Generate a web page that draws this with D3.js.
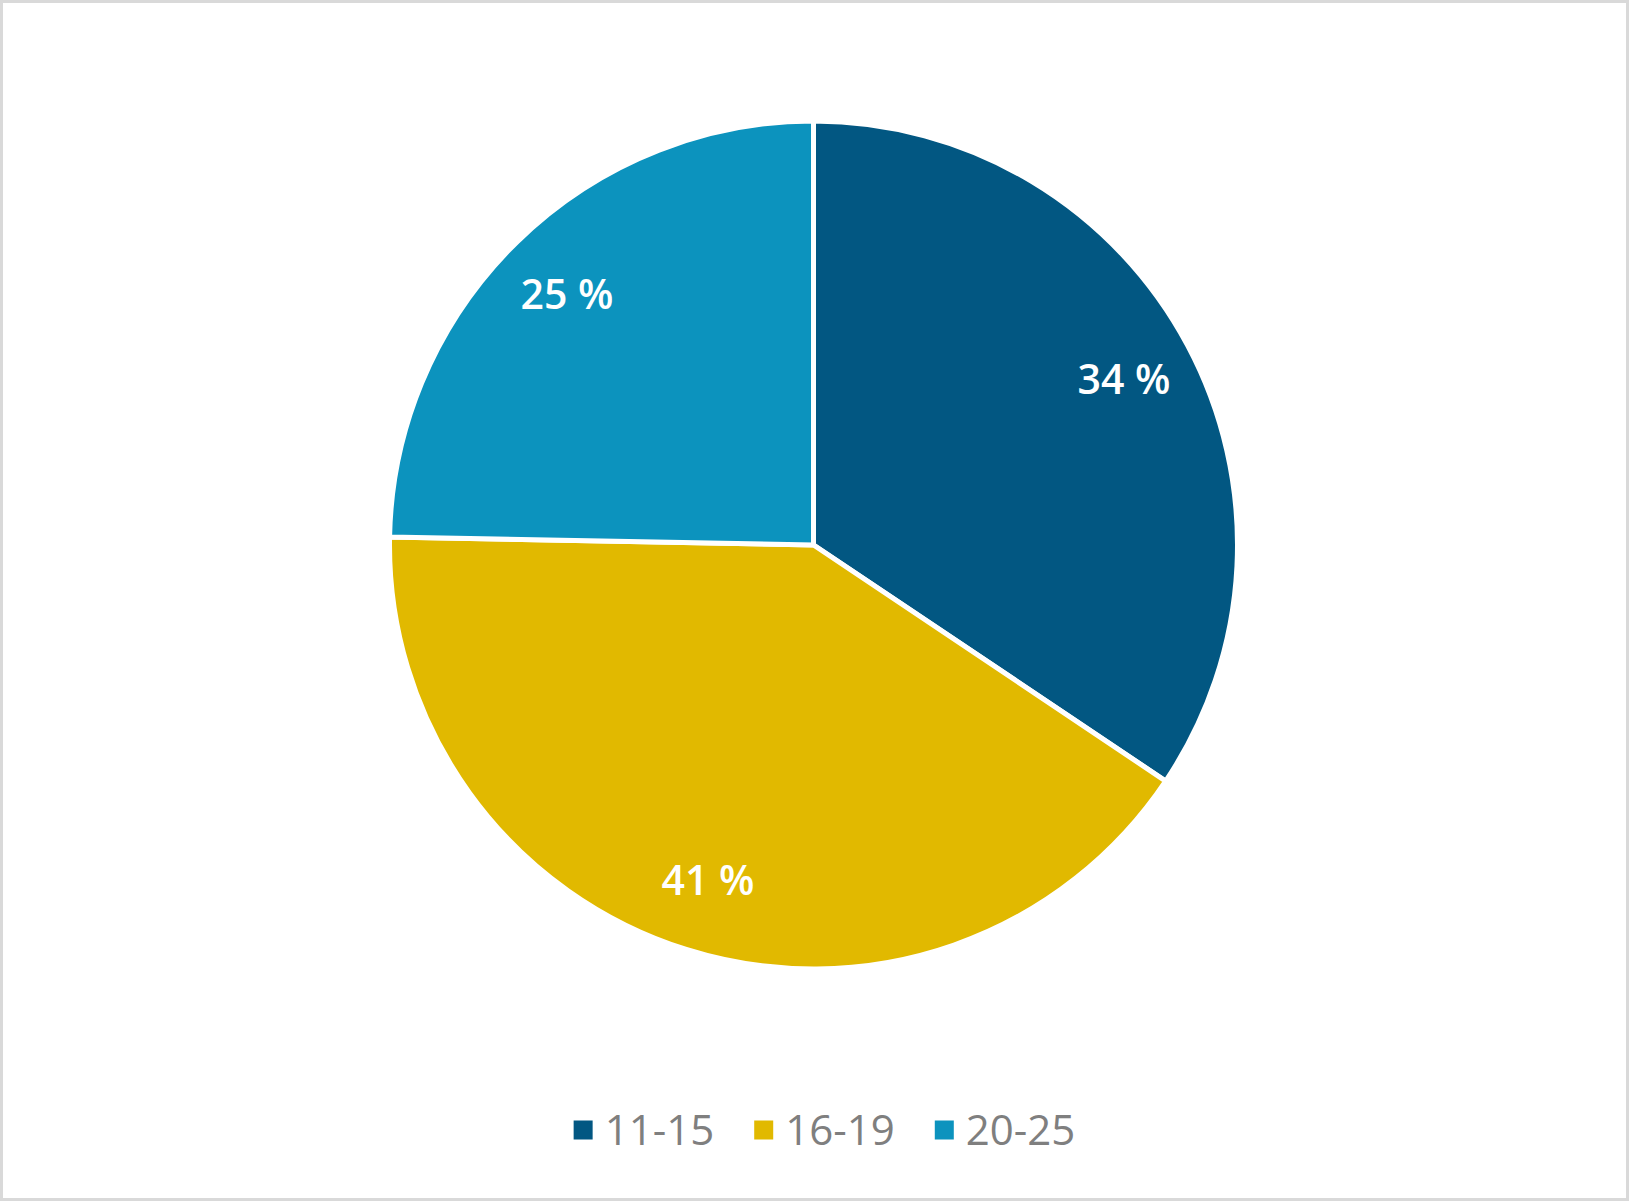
<!DOCTYPE html>
<html>
<head>
<meta charset="utf-8">
<script src="https://cdn.jsdelivr.net/npm/d3@7/dist/d3.min.js"></script>
<style>
  html, body { margin: 0; padding: 0; background: #ffffff; }
  svg { display: block; }
</style>
</head>
<body>
<svg id="chart" width="1629" height="1201"></svg>
<script>
const categories = ["11-15", "16-19", "20-25"];
const values = [34.4, 40.9, 24.7];
const colors = ["#025782", "#e1b900", "#0c93be"];

const W = 1629, H = 1201;
const svg = d3.select("#chart");

svg.append("rect")
  .attr("x", 1.5).attr("y", 1.5)
  .attr("width", W - 3).attr("height", H - 3)
  .attr("fill", "#ffffff")
  .attr("stroke", "#d9d9d9")
  .attr("stroke-width", 3);

const cx = 813.5, cy = 545, R = 424;
const data = categories.map((c, i) => ({ cat: c, value: values[i], color: colors[i] }));

const pie = d3.pie().sort(null).value(d => d.value);
const arcs = pie(data);
const arc = d3.arc().innerRadius(0).outerRadius(R);
const labelArc = d3.arc().innerRadius(R * 0.83).outerRadius(R * 0.83);

const g = svg.append("g").attr("transform", `translate(${cx},${cy})`);

g.selectAll("path.slice")
  .data(arcs)
  .join("path")
  .attr("class", "slice")
  .attr("d", arc)
  .attr("fill", d => d.data.color)
  .attr("stroke", "#ffffff")
  .attr("stroke-width", 5)
  .attr("stroke-linejoin", "miter");

const fmt = v => Math.round(v) + " %";

g.selectAll("text.lbl")
  .data(arcs)
  .join("text")
  .attr("class", "lbl")
  .attr("transform", d => {
    const [x, y] = labelArc.centroid(d);
    return `translate(${x},${y})`;
  })
  .attr("text-anchor", "middle")
  .attr("dy", "0.36em")
  .attr("font-family", "'Open Sans', sans-serif")
  .attr("font-size", 41)
  .attr("font-weight", 600)
  .attr("fill", "#ffffff")
  .text(d => fmt(d.data.value));

// Legend
const legend = svg.append("g");
const fontSize = 42, sq = 19, textGap = 31, itemGap = 40;
const items = legend.selectAll("g.item")
  .data(data)
  .join("g")
  .attr("class", "item");

items.append("rect")
  .attr("width", sq).attr("height", sq)
  .attr("y", -sq / 2)
  .attr("fill", d => d.color);

items.append("text")
  .attr("x", textGap)
  .attr("y", 0)
  .attr("dy", "0.36em")
  .attr("font-family", "'Open Sans', sans-serif")
  .attr("font-size", fontSize)
  .attr("fill", "#7f7f7f")
  .text(d => d.cat);

const widths = [];
items.each(function () {
  const t = d3.select(this).select("text").node().getComputedTextLength();
  widths.push(textGap + t);
});
const total = d3.sum(widths) + itemGap * (widths.length - 1);
let x0 = 824.5 - total / 2;
const ly = 1130;
items.attr("transform", (d, i) => {
  const x = x0;
  x0 += widths[i] + itemGap;
  return `translate(${x},${ly})`;
});
</script>
</body>
</html>
